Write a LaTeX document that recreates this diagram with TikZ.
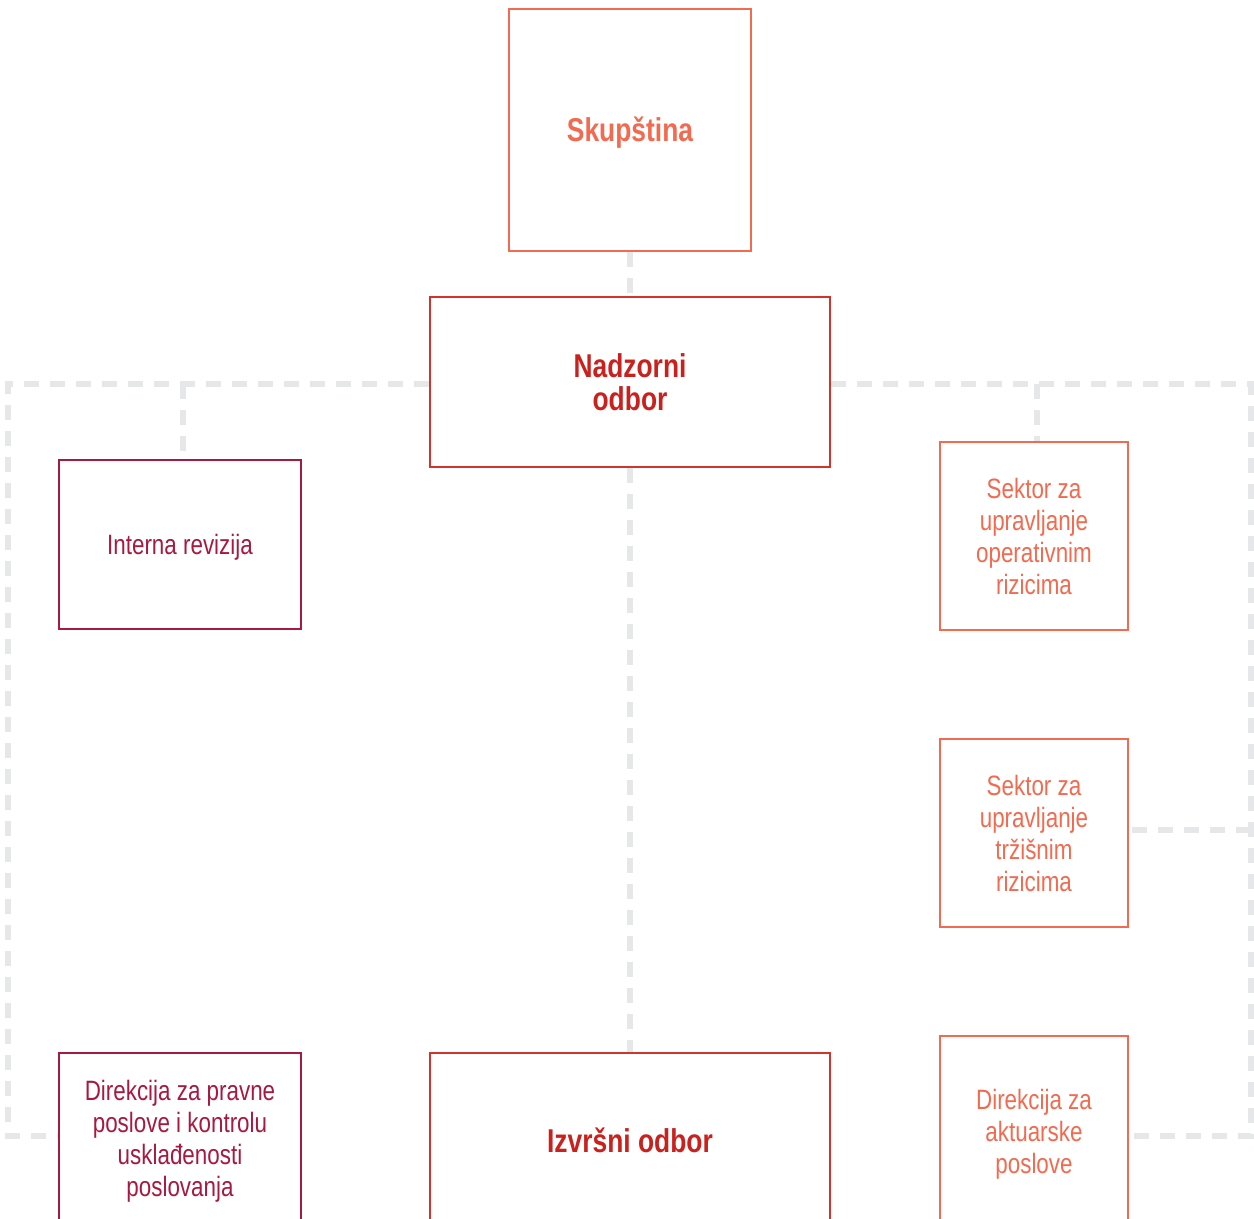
\documentclass[tikz,border=0pt]{standalone}
\usepackage{fontspec}
\setmainfont{Liberation Sans}[FakeStretch=0.8]
\definecolor{corange}{HTML}{F26A4F}
\definecolor{cred}{HTML}{C9221E}
\definecolor{credline}{HTML}{D2342C}
\definecolor{ccrim}{HTML}{A8193F}
\definecolor{cgray}{HTML}{E6E7E8}
\tikzset{
  conn/.style={draw=cgray, line width=2.6pt, dash pattern=on 7.5pt off 5.5pt},
  boxbase/.style={draw, line width=0.7pt, inner sep=0pt, align=center},
  thintext/.style={font=\fontsize{14}{16}\selectfont, execute at begin node={\rule{0pt}{0.95em}}},
  boldtext/.style={font=\fontsize{16.5}{16.5}\selectfont\bfseries, execute at begin node={\rule{0pt}{0.9em}}},
  orangebox/.style={boxbase, draw=corange, text=corange, thintext},
  crimbox/.style={boxbase, draw=ccrim, text=ccrim, thintext},
  redbox/.style={boxbase, draw=credline, text=cred, boldtext},
  topbox/.style={boxbase, draw=corange, text=corange, boldtext},
}
\begin{document}
\begin{tikzpicture}[x=0.5pt,y=-0.5pt]
\useasboundingbox (0,0) rectangle (1254,1219);
\clip (0,0) rectangle (1254,1219);
% nodes
\node[topbox, minimum width=121pt, minimum height=121pt] (skup) at (630,130) {Skupština};
\node[redbox, minimum width=200pt, minimum height=85pt] (nad) at (630,382) {Nadzorni\\odbor};
\node[crimbox, minimum width=121pt, minimum height=84.5pt] (int) at (180,544.5) {Interna revizija};
\node[orangebox, minimum width=94pt, minimum height=94pt] (sop) at (1034,536) {Sektor za\\upravljanje\\operativnim\\rizicima};
\node[orangebox, minimum width=94pt, minimum height=94pt] (str) at (1034,833) {Sektor za\\upravljanje\\tržišnim\\rizicima};
\node[orangebox, minimum width=94pt, minimum height=98pt] (akt) at (1034,1134) {Direkcija za\\aktuarske\\poslove};
\node[redbox, minimum width=200pt, minimum height=85pt] (izv) at (630,1138) {Izvršni odbor};
\node[crimbox, minimum width=121pt, minimum height=88pt] (prav) at (180,1141) {Direkcija za pravne\\poslove i kontrolu\\usklađenosti\\poslovanja};
% junction coordinates
\coordinate (lt) at (8,384);
\coordinate (lb) at (8,1136);
\coordinate (jl) at (183,384);
\coordinate (rt) at (1251,384);
\coordinate (rm) at (1251,830);
\coordinate (rb) at (1251,1136);
\coordinate (jr) at (1037,384);
% connectors
\draw[conn] (skup.south) -- (nad.north);
\draw[conn] (lt -| nad.west) -- (lt) -- (lb) -- (lb -| prav.west);
\draw[conn] (jl) -- (jl |- int.north);
\draw[conn] (rt -| nad.east) -- (rt) -- (rb) -- (rb -| akt.east);
\draw[conn] (rm) -- (rm -| str.east);
\draw[conn] (jr) -- (jr |- sop.north);
\draw[conn] (nad.south) -- (izv.north);
\end{tikzpicture}
\end{document}
